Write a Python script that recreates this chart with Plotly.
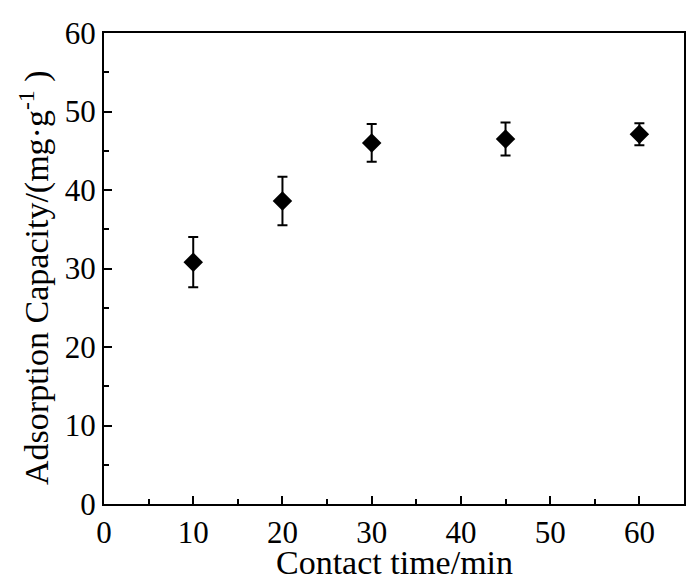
import plotly.graph_objects as go

time_min = [10, 20, 30, 45, 60]
capacity = [30.8, 38.6, 46.0, 46.5, 47.1]
error = [3.2, 3.1, 2.4, 2.1, 1.4]

x_ticks = [0, 10, 20, 30, 40, 50, 60]
y_ticks = [0, 10, 20, 30, 40, 50, 60]

x_title = "Contact time/min"
y_title = "Adsorption Capacity/(mg·g<sup>-1</sup> )"

FONT = "Liberation Serif, Times New Roman, serif"

fig = go.Figure()
fig.add_trace(go.Scatter(
    x=time_min, y=capacity, mode="markers",
    marker=dict(symbol="diamond", size=15, color="black"),
    error_y=dict(type="data", array=error, visible=True, color="black",
                 thickness=2, width=5),
    showlegend=False,
))

axis_common = dict(
    showline=True, linecolor="black", linewidth=2, mirror=True,
    ticks="inside", ticklen=8, tickwidth=2, tickcolor="black",
    showgrid=False, zeroline=False, automargin=False,
    tickfont=dict(family=FONT, size=31, color="black"),
    minor=dict(ticks="inside", ticklen=5, tickwidth=2, tickcolor="black", dtick=5),
)

fig.update_xaxes(range=[0, 65], tickvals=x_ticks, ticktext=[str(v) for v in x_ticks], **axis_common)
fig.update_yaxes(range=[0, 60], tickvals=y_ticks, ticktext=[str(v) for v in y_ticks], **axis_common)

fig.add_annotation(
    text=x_title, xref="paper", yref="paper", x=0.5, y=-0.125,
    xanchor="center", yanchor="middle", showarrow=False,
    font=dict(family=FONT, size=34, color="black"),
)
fig.add_annotation(
    text=y_title, xref="paper", yref="paper", x=-0.119, y=0.482,
    xanchor="center", yanchor="middle", showarrow=False, textangle=-90,
    font=dict(family=FONT, size=34, color="black"),
)

# page body has an 8px margin; compensate so the plot area lands where the reference has it
fig.update_layout(
    width=700, height=587,
    margin=dict(l=96, r=24, t=25, b=91),
    paper_bgcolor="white", plot_bgcolor="white",
)

fig.write_html("out.html")
